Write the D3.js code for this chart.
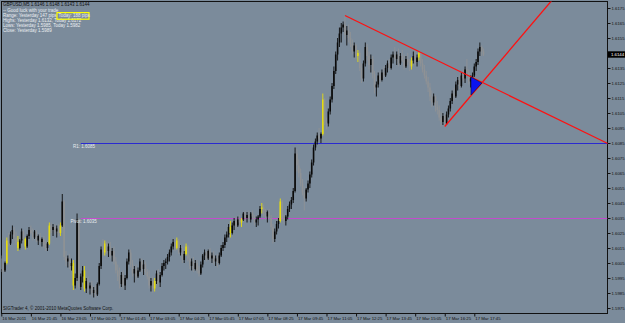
<!DOCTYPE html>
<html>
<head>
<meta charset="utf-8">
<script src="https://cdn.jsdelivr.net/npm/d3@7"></script>
<style>
body { margin: 0; background: #7b8b9b; }
svg { display: block; font-family: "Liberation Sans", Arial, sans-serif; }
</style>
</head>
<body>
<div id="chart"></div>
<script>
// GBPUSD M5 bars, 16 Mar 2011 20:25 -> 17 Mar 2011 18:10
var opens = [1.6008,1.6001,1.6000,1.6005,1.6020,1.6018,1.6024,1.6027,1.6022,1.6019,1.6015,1.6020,1.6026,1.6021,1.6016,1.6023,1.6027,1.6025,1.6022,1.6026,
  1.6020,1.6023,1.6019,1.6021,1.6017,1.6015,1.6018,1.6030,1.6027,1.6029,1.6026,1.6028,1.6025,1.6030,1.6046,1.6009,1.6006,1.6008,1.6003,1.6005,
  1.5990,1.5995,1.6034,1.5989,1.5996,1.6000,1.5988,1.5993,1.5988,1.5990,1.5985,1.5987,1.5984,1.5991,1.6003,1.6014,1.6012,1.6018,1.6013,1.6016,
  1.6010,1.6013,1.6006,1.6000,1.5996,1.5991,1.5997,1.5990,1.5995,1.6006,1.6012,1.6004,1.5998,1.6001,1.5996,1.6000,1.6006,1.6001,1.6004,1.5999,
  1.5996,1.5990,1.5993,1.5988,1.5993,1.5998,1.5992,1.5997,1.6003,1.6005,1.6006,1.6009,1.6012,1.6016,1.6019,1.6015,1.6020,1.6012,1.6015,1.6007,
  1.6011,1.6016,1.6008,1.6003,1.6006,1.6001,1.6005,1.6000,1.5998,1.6004,1.6010,1.6012,1.6008,1.6013,1.6008,1.6010,1.6006,1.6008,1.6005,1.6010,
  1.6015,1.6017,1.6022,1.6024,1.6029,1.6025,1.6030,1.6033,1.6030,1.6034,1.6032,1.6034,1.6038,1.6035,1.6037,1.6034,1.6038,1.6036,1.6032,1.6034,
  1.6036,1.6041,1.6042,1.6038,1.6036,1.6039,1.6035,1.6029,1.6021,1.6026,1.6031,1.6033,1.6046,1.6035,1.6033,1.6036,1.6041,1.6044,1.6047,1.6053,
  1.6078,1.6070,1.6065,1.6058,1.6052,1.6048,1.6054,1.6058,1.6064,1.6072,1.6082,1.6086,1.6090,1.6088,1.6091,1.6114,1.6099,1.6098,1.6106,1.6114,
  1.6123,1.6133,1.6144,1.6152,1.6158,1.6162,1.6164,1.6157,1.6160,1.6155,1.6151,1.6146,1.6150,1.6143,1.6145,1.6135,1.6128,1.6138,1.6149,1.6143,
  1.6137,1.6141,1.6131,1.6122,1.6124,1.6130,1.6127,1.6132,1.6130,1.6135,1.6138,1.6135,1.6142,1.6144,1.6141,1.6144,1.6138,1.6143,1.6140,1.6136,
  1.6141,1.6139,1.6136,1.6140,1.6143,1.6139,1.6142,1.6145,1.6138,1.6134,1.6130,1.6126,1.6122,1.6116,1.6112,1.6116,1.6109,1.6107,1.6102,1.6099,
  1.6103,1.6098,1.6104,1.6108,1.6113,1.6118,1.6116,1.6124,1.6127,1.6123,1.6130,1.6128,1.6134,1.6132,1.6126,1.6128,1.6130,1.6136,1.6139,1.6146,
  1.6149,1.6146];
var highs = [1.6010,1.6004,1.6006,1.6022,1.6025,1.6026,1.6030,1.6029,1.6026,1.6023,1.6021,1.6028,1.6027,1.6022,1.6024,1.6029,1.6030,1.6028,1.6027,1.6027,
  1.6024,1.6025,1.6022,1.6023,1.6020,1.6019,1.6032,1.6032,1.6031,1.6031,1.6030,1.6031,1.6032,1.6051,1.6047,1.6013,1.6010,1.6011,1.6008,1.6007,
  1.5998,1.6038,1.6035,1.5998,1.6003,1.6003,1.5995,1.5996,1.5992,1.5993,1.5989,1.5990,1.5992,1.6005,1.6016,1.6021,1.6020,1.6019,1.6018,1.6019,
  1.6015,1.6016,1.6009,1.6004,1.6002,1.5999,1.6000,1.5997,1.6008,1.6014,1.6014,1.6007,1.6003,1.6004,1.6002,1.6008,1.6008,1.6007,1.6006,1.6001,
  1.6000,1.5995,1.5996,1.5995,1.6000,1.6001,1.5999,1.6005,1.6007,1.6008,1.6011,1.6014,1.6018,1.6021,1.6021,1.6022,1.6021,1.6017,1.6016,1.6013,
  1.6018,1.6017,1.6010,1.6008,1.6009,1.6007,1.6007,1.6003,1.6006,1.6011,1.6014,1.6013,1.6014,1.6015,1.6012,1.6013,1.6010,1.6011,1.6012,1.6017,
  1.6019,1.6024,1.6026,1.6031,1.6033,1.6032,1.6035,1.6036,1.6036,1.6037,1.6035,1.6039,1.6040,1.6039,1.6040,1.6039,1.6040,1.6037,1.6036,1.6037,
  1.6043,1.6045,1.6044,1.6041,1.6040,1.6041,1.6037,1.6031,1.6028,1.6033,1.6035,1.6048,1.6047,1.6038,1.6037,1.6043,1.6046,1.6049,1.6055,1.6082,
  1.6081,1.6074,1.6068,1.6061,1.6056,1.6055,1.6060,1.6066,1.6074,1.6084,1.6088,1.6092,1.6095,1.6092,1.6118,1.6115,1.6102,1.6108,1.6116,1.6125,
  1.6136,1.6146,1.6155,1.6162,1.6165,1.6166,1.6170,1.6163,1.6164,1.6159,1.6154,1.6152,1.6151,1.6147,1.6146,1.6138,1.6140,1.6152,1.6151,1.6146,
  1.6144,1.6143,1.6133,1.6126,1.6132,1.6133,1.6134,1.6136,1.6137,1.6140,1.6141,1.6144,1.6146,1.6149,1.6146,1.6148,1.6145,1.6147,1.6144,1.6143,
  1.6145,1.6141,1.6142,1.6146,1.6147,1.6144,1.6146,1.6146,1.6141,1.6137,1.6133,1.6129,1.6125,1.6120,1.6118,1.6117,1.6113,1.6110,1.6106,1.6105,
  1.6104,1.6106,1.6110,1.6115,1.6120,1.6122,1.6126,1.6129,1.6130,1.6132,1.6134,1.6136,1.6141,1.6134,1.6130,1.6132,1.6138,1.6141,1.6148,1.6152,
  1.6150,1.6148];
var lows = [1.5999,1.5998,1.5999,1.6004,1.6016,1.6017,1.6021,1.6020,1.6017,1.6013,1.6014,1.6018,1.6019,1.6014,1.6015,1.6021,1.6024,1.6020,1.6021,1.6019,
  1.6017,1.6018,1.6016,1.6015,1.6013,1.6013,1.6017,1.6025,1.6023,1.6024,1.6022,1.6023,1.6023,1.6029,1.6007,1.6003,1.6002,1.6001,1.6000,1.5987,
  1.5988,1.5993,1.5988,1.5987,1.5992,1.5986,1.5985,1.5986,1.5984,1.5983,1.5982,1.5982,1.5983,1.5990,1.6001,1.6010,1.6010,1.6011,1.6009,1.6008,
  1.6006,1.6004,1.5998,1.5993,1.5988,1.5989,1.5988,1.5987,1.5994,1.6004,1.6002,1.5996,1.5992,1.5994,1.5995,1.5999,1.5999,1.5997,1.5997,1.5994,
  1.5988,1.5986,1.5985,1.5986,1.5991,1.5990,1.5989,1.5996,1.6000,1.6001,1.6004,1.6006,1.6010,1.6014,1.6013,1.6014,1.6011,1.6010,1.6005,1.6005,
  1.6010,1.6006,1.6001,1.6000,1.5999,1.6000,1.5998,1.5996,1.5997,1.6002,1.6007,1.6006,1.6007,1.6006,1.6005,1.6004,1.6003,1.6002,1.6004,1.6009,
  1.6013,1.6015,1.6019,1.6022,1.6022,1.6024,1.6027,1.6028,1.6029,1.6030,1.6029,1.6033,1.6033,1.6032,1.6033,1.6032,1.6034,1.6030,1.6029,1.6030,
  1.6035,1.6038,1.6036,1.6034,1.6032,1.6034,1.6027,1.6018,1.6019,1.6024,1.6028,1.6032,1.6033,1.6031,1.6030,1.6034,1.6039,1.6041,1.6045,1.6052,
  1.6066,1.6062,1.6056,1.6050,1.6040,1.6046,1.6052,1.6055,1.6062,1.6070,1.6080,1.6084,1.6086,1.6085,1.6090,1.6097,1.6094,1.6096,1.6104,1.6112,
  1.6121,1.6131,1.6140,1.6149,1.6152,1.6159,1.6154,1.6150,1.6152,1.6149,1.6144,1.6142,1.6141,1.6139,1.6133,1.6125,1.6126,1.6136,1.6140,1.6134,
  1.6132,1.6128,1.6118,1.6116,1.6122,1.6125,1.6126,1.6128,1.6129,1.6132,1.6133,1.6134,1.6138,1.6140,1.6137,1.6136,1.6137,1.6139,1.6134,1.6135,
  1.6137,1.6133,1.6134,1.6138,1.6137,1.6136,1.6140,1.6136,1.6132,1.6128,1.6124,1.6119,1.6113,1.6109,1.6110,1.6106,1.6104,1.6100,1.6096,1.6097,
  1.6096,1.6097,1.6102,1.6106,1.6111,1.6113,1.6115,1.6120,1.6121,1.6122,1.6126,1.6125,1.6130,1.6124,1.6122,1.6124,1.6129,1.6133,1.6137,1.6143,
  1.6143,1.6143];
var closes = [1.6001,1.6000,1.6005,1.6020,1.6018,1.6024,1.6027,1.6022,1.6019,1.6015,1.6020,1.6026,1.6021,1.6016,1.6023,1.6027,1.6025,1.6022,1.6026,1.6020,
  1.6023,1.6019,1.6021,1.6017,1.6015,1.6018,1.6030,1.6027,1.6029,1.6026,1.6028,1.6025,1.6030,1.6046,1.6009,1.6006,1.6008,1.6003,1.6005,1.5990,
  1.5995,1.6034,1.5989,1.5996,1.6000,1.5988,1.5993,1.5988,1.5990,1.5985,1.5987,1.5984,1.5991,1.6003,1.6014,1.6012,1.6018,1.6013,1.6016,1.6010,
  1.6013,1.6006,1.6000,1.5996,1.5991,1.5997,1.5990,1.5995,1.6006,1.6012,1.6004,1.5998,1.6001,1.5996,1.6000,1.6006,1.6001,1.6004,1.5999,1.5996,
  1.5990,1.5993,1.5988,1.5993,1.5998,1.5992,1.5997,1.6003,1.6005,1.6006,1.6009,1.6012,1.6016,1.6019,1.6015,1.6020,1.6012,1.6015,1.6007,1.6011,
  1.6016,1.6008,1.6003,1.6006,1.6001,1.6005,1.6000,1.5998,1.6004,1.6010,1.6012,1.6008,1.6013,1.6008,1.6010,1.6006,1.6008,1.6005,1.6010,1.6015,
  1.6017,1.6022,1.6024,1.6029,1.6025,1.6030,1.6033,1.6030,1.6034,1.6032,1.6034,1.6038,1.6035,1.6037,1.6034,1.6038,1.6036,1.6032,1.6034,1.6036,
  1.6041,1.6042,1.6038,1.6036,1.6039,1.6035,1.6029,1.6021,1.6026,1.6031,1.6033,1.6046,1.6035,1.6033,1.6036,1.6041,1.6044,1.6047,1.6053,1.6078,
  1.6070,1.6065,1.6058,1.6052,1.6048,1.6054,1.6058,1.6064,1.6072,1.6082,1.6086,1.6090,1.6088,1.6091,1.6114,1.6099,1.6098,1.6106,1.6114,1.6123,
  1.6133,1.6144,1.6152,1.6158,1.6162,1.6164,1.6157,1.6160,1.6155,1.6151,1.6146,1.6150,1.6143,1.6145,1.6135,1.6128,1.6138,1.6149,1.6143,1.6137,
  1.6141,1.6131,1.6122,1.6124,1.6130,1.6127,1.6132,1.6130,1.6135,1.6138,1.6135,1.6142,1.6144,1.6141,1.6144,1.6138,1.6143,1.6140,1.6136,1.6141,
  1.6139,1.6136,1.6140,1.6143,1.6139,1.6142,1.6145,1.6138,1.6134,1.6130,1.6126,1.6122,1.6116,1.6112,1.6116,1.6109,1.6107,1.6102,1.6099,1.6103,
  1.6098,1.6104,1.6108,1.6113,1.6118,1.6116,1.6124,1.6127,1.6123,1.6130,1.6128,1.6134,1.6132,1.6126,1.6128,1.6130,1.6136,1.6139,1.6146,1.6149,
  1.6146,1.6144];
// bars drawn yellow on the chart
var yellowBars = [3, 9, 13, 26, 32, 39, 45, 56, 83, 95, 100, 124, 130, 141, 151, 174, 193, 222, 226];

var timeTickBars = [0, 16, 32, 48, 64, 80, 96, 112, 128, 144, 160, 176, 192, 208, 224, 240, 256];
var timeTickLabels = ["16 Mar 2011", "16 Mar 21:45", "16 Mar 23:05", "17 Mar 00:25", "17 Mar 01:45",
  "17 Mar 03:05", "17 Mar 04:25", "17 Mar 05:45", "17 Mar 07:05", "17 Mar 08:25", "17 Mar 09:45",
  "17 Mar 11:05", "17 Mar 12:25", "17 Mar 13:45", "17 Mar 15:05", "17 Mar 16:25", "17 Mar 17:45"];
var priceTicks = [1.6175, 1.6165, 1.6155, 1.6145, 1.6135, 1.6125, 1.6115, 1.6105, 1.6095, 1.6085, 1.6075,
  1.6065, 1.6055, 1.6045, 1.6035, 1.6025, 1.6015, 1.6005, 1.5995, 1.5985, 1.5975];

var pivotLevels = [
  {name: "R1", value: 1.6085, color: "#2a2ad0"},
  {name: "Pivot", value: 1.6035, color: "#c24ccc"}
];
var pivotStartBar = 43; // 17 Mar 00:00

var trendLines = [
  {i1: 186, p1: 1.6170, i2: 241, p2: 1.6137},
  {i1: 240, p1: 1.6096, i2: 260, p2: 1.6125}
];
var trianglePoints = [[254.2, 1.6129], [254.2, 1.6117], [260.1, 1.6125]];

var currentPrice = 1.6144;
var infoLines = [
  "-- Good luck with your trade",
  "Range: Yesterday 147 pips",
  "Highs: Yesterday 1.6132, Today 1.6172",
  "Lows: Yesterday 1.5985, Today 1.5982",
  "Close: Yesterday 1.5989"
];

ChartVis = function(_parentElement) {
  this.parentElement = _parentElement;
  this.initVis();
  this.drawLevels();
  this.drawBars();
  this.drawObjects();
  this.drawTexts();
};

ChartVis.prototype.initVis = function() {
  var vis = this;
  vis.width = 625;
  vis.height = 323;
  vis.right = 607.5;
  vis.bottom = 313.5;

  vis.svg = d3.select(vis.parentElement).append("svg")
    .attr("width", vis.width)
    .attr("height", vis.height);

  vis.svg.append("rect")
    .attr("width", vis.width)
    .attr("height", vis.height)
    .attr("fill", "#7b8b9b");

  vis.svg.append("clipPath")
    .attr("id", "plot-clip")
    .append("rect")
    .attr("x", 1.5)
    .attr("y", 1.5)
    .attr("width", vis.right - 1.5)
    .attr("height", vis.bottom - 1.5);

  vis.xScale = d3.scaleLinear()
    .domain([0, 256])
    .range([1.3, 1.3 + 256 * 1.8477]);
  vis.yScale = d3.scaleLinear()
    .domain([1.5975, 1.6175])
    .range([308, 8]);

  vis.yAxis = d3.axisRight(vis.yScale)
    .tickValues(priceTicks)
    .tickFormat(d3.format(".4f"))
    .tickSize(3)
    .tickPadding(1);

  vis.xAxis = d3.axisBottom(vis.xScale)
    .tickValues(timeTickBars)
    .tickFormat((d, i) => {
      return timeTickLabels[i];
    })
    .tickSize(3);

  var ya = vis.svg.append("g")
    .attr("class", "y-axis")
    .attr("transform", "translate(" + vis.right + ",0)")
    .call(vis.yAxis);
  ya.select(".domain").remove();
  ya.selectAll("line").attr("stroke", "#111");
  ya.selectAll("text")
    .attr("font-size", 4.3)
    .attr("fill", "#111");

  var xa = vis.svg.append("g")
    .attr("class", "x-axis")
    .attr("transform", "translate(0," + vis.bottom + ")")
    .call(vis.xAxis);
  xa.select(".domain").remove();
  xa.selectAll("line").attr("stroke", "#111");
  xa.selectAll("text")
    .attr("font-size", 4.3)
    .attr("fill", "#111")
    .attr("text-anchor", "start")
    .attr("x", 0.5)
    .attr("y", 3.5);

  vis.svg.append("rect")
    .attr("x", 1.5)
    .attr("y", 1.5)
    .attr("width", vis.right - 1.5)
    .attr("height", vis.bottom - 1.5)
    .attr("fill", "none")
    .attr("stroke", "#111")
    .attr("stroke-width", 1);

  vis.plot = vis.svg.append("g").attr("clip-path", "url(#plot-clip)");
};

ChartVis.prototype.drawLevels = function() {
  var vis = this;
  vis.plot.selectAll(".level")
    .data(pivotLevels)
    .enter()
    .append("line")
    .attr("class", "level")
    .attr("x1", vis.xScale(pivotStartBar))
    .attr("x2", vis.right)
    .attr("y1", (d) => { return Math.round(vis.yScale(d.value)) + 0.5; })
    .attr("y2", (d) => { return Math.round(vis.yScale(d.value)) + 0.5; })
    .attr("stroke", (d) => { return d.color; })
    .attr("stroke-width", 1);
};

ChartVis.prototype.drawBars = function() {
  var vis = this;
  var bars = closes.map((c, i) => {
    return {i: i, o: opens[i], h: highs[i], l: lows[i], c: c};
  });
  // up bars are black, down bars grey on this template
  var color = function(d) {
    if (yellowBars.indexOf(d.i) >= 0) return "#e6dc10";
    if (d.c >= d.o) return "#0a0a0a";
    return "#8f9295";
  };

  var g = vis.plot.append("g");
  g.selectAll(".wick")
    .data(bars)
    .enter()
    .append("line")
    .attr("class", "wick")
    .attr("x1", (d) => { return vis.xScale(d.i); })
    .attr("x2", (d) => { return vis.xScale(d.i); })
    .attr("y1", (d) => { return vis.yScale(d.h); })
    .attr("y2", (d) => { return vis.yScale(d.l); })
    .attr("stroke", color)
    .attr("stroke-width", 0.9);

  g.selectAll(".body")
    .data(bars)
    .enter()
    .append("rect")
    .attr("class", "body")
    .attr("x", (d) => { return vis.xScale(d.i) - 0.8; })
    .attr("width", 1.6)
    .attr("y", (d) => { return vis.yScale(Math.max(d.o, d.c)); })
    .attr("height", (d) => { return Math.max(1, Math.abs(vis.yScale(d.o) - vis.yScale(d.c))); })
    .attr("fill", color);
};

ChartVis.prototype.drawObjects = function() {
  var vis = this;

  // trend lines extended as rays to the right
  trendLines.forEach((t) => {
    var slope = (t.p2 - t.p1) / (t.i2 - t.i1);
    var iEnd = 340;
    vis.plot.append("line")
      .attr("x1", vis.xScale(t.i1))
      .attr("y1", vis.yScale(t.p1))
      .attr("x2", vis.xScale(iEnd))
      .attr("y2", vis.yScale(t.p1 + slope * (iEnd - t.i1)))
      .attr("stroke", "#ff1010")
      .attr("stroke-width", 1.3);
  });

  vis.plot.append("polygon")
    .attr("points", trianglePoints.map((p) => {
      return vis.xScale(p[0]) + "," + vis.yScale(p[1]);
    }).join(" "))
    .attr("fill", "#0a14f0")
    .attr("stroke", "#101030")
    .attr("stroke-width", 0.6);
};

ChartVis.prototype.drawTexts = function() {
  var vis = this;

  vis.svg.append("text")
    .attr("x", 3)
    .attr("y", 6.3)
    .attr("font-size", 4.5)
    .attr("fill", "#111")
    .text("GBPUSD,M5  1.6146 1.6148 1.6143 1.6144");

  vis.svg.selectAll(".info")
    .data(infoLines)
    .enter()
    .append("text")
    .attr("class", "info")
    .attr("x", 3)
    .attr("y", (d, i) => { return 11.6 + 5.2 * i; })
    .attr("font-size", 4.5)
    .attr("fill", "#eceff2")
    .text((d) => { return d; });

  vis.svg.append("rect")
    .attr("x", 57)
    .attr("y", 12.6)
    .attr("width", 32)
    .attr("height", 6.6)
    .attr("fill", "none")
    .attr("stroke", "#ffff00")
    .attr("stroke-width", 1.2);
  vis.svg.append("text")
    .attr("x", 58.6)
    .attr("y", 16.8)
    .attr("font-size", 4.5)
    .attr("fill", "#eceff2")
    .text("Today: 188 pips");

  vis.svg.selectAll(".level-label")
    .data(pivotLevels)
    .enter()
    .append("text")
    .attr("class", "level-label")
    .attr("x", (d) => { return d.name === "R1" ? 73 : 70.5; })
    .attr("y", (d) => { return vis.yScale(d.value) + 4.5; })
    .attr("font-size", 4.5)
    .attr("fill", "#e8ecf0")
    .text((d) => { return d.name + ": " + d3.format(".4f")(d.value); });

  vis.svg.append("text")
    .attr("x", 3)
    .attr("y", 310)
    .attr("font-size", 4.5)
    .attr("fill", "#111")
    .text("SIGTrader 4, \u00a9 2001-2010 MetaQuotes Software Corp.");

  var cy = vis.yScale(currentPrice);
  vis.svg.append("rect")
    .attr("x", vis.right + 0.5)
    .attr("y", cy - 3.2)
    .attr("width", 18)
    .attr("height", 6.4)
    .attr("fill", "#000");
  vis.svg.append("text")
    .attr("x", vis.right + 3.5)
    .attr("y", cy + 1.5)
    .attr("font-size", 4.3)
    .attr("fill", "#fff")
    .text(d3.format(".4f")(currentPrice));
};

new ChartVis("#chart");
</script>
</body>
</html>
